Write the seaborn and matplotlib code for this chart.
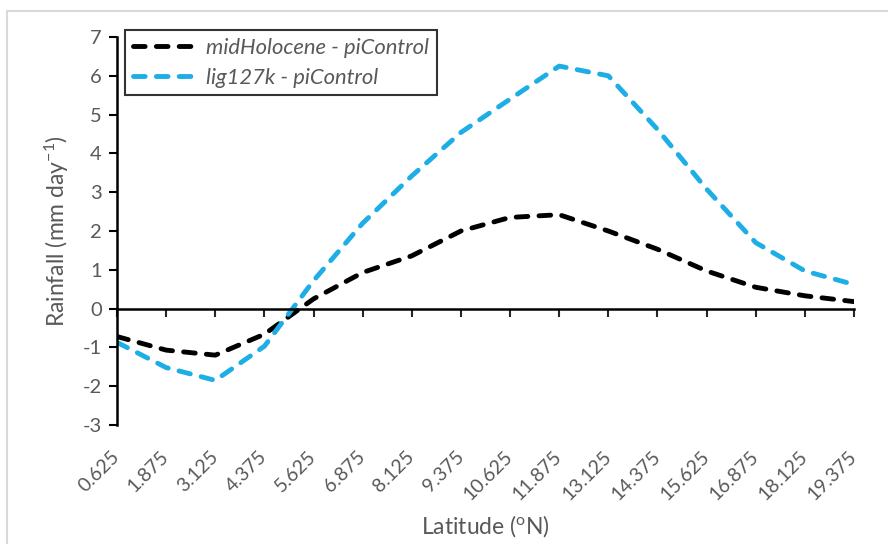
import matplotlib
matplotlib.use("Agg")
import matplotlib.pyplot as plt
import seaborn as sns
import pandas as pd
import numpy as np

# latitude categories (degrees N)
lat_labels = ['0.625', '1.875', '3.125', '4.375', '5.625', '6.875', '8.125', '9.375',
              '10.625', '11.875', '13.125', '14.375', '15.625', '16.875', '18.125', '19.375']

# rainfall anomalies (mm/day)
mid_holocene = [-0.72, -1.07, -1.2, -0.66, 0.25, 0.93, 1.36, 2.0,
                2.35, 2.42, 2.0, 1.53, 0.97, 0.55, 0.33, 0.18]
lig127k = [-0.87, -1.52, -1.85, -0.97, 0.72, 2.2, 3.42, 4.54,
           5.4, 6.25, 6.0, 4.62, 3.08, 1.7, 0.97, 0.62]

series_names = ['midHolocene - piControl', 'lig127k - piControl']

df = pd.DataFrame({
    'pos': list(range(len(lat_labels))) * 2,
    'rain': mid_holocene + lig127k,
    'series': [series_names[0]] * len(lat_labels) + [series_names[1]] * len(lat_labels),
})

sns.set_style('white')
plt.rcParams['font.family'] = ['Lato', 'DejaVu Sans']
plt.rcParams['mathtext.default'] = 'regular'
plt.rcParams['axes.unicode_minus'] = False

grey = '#595959'
blue = '#1EAEE6'
lw = 3.5
dash = (2.4, 2.3)

fig = plt.figure(figsize=(8.88, 5.44), dpi=100)
ax = fig.add_axes([117 / 888, 1 - 425 / 544, (854 - 117) / 888, (425 - 37) / 544])

sns.lineplot(
    data=df, x='pos', y='rain', hue='series', style='series',
    palette={series_names[0]: 'black', series_names[1]: blue},
    dashes={series_names[0]: dash, series_names[1]: dash},
    linewidth=lw, ax=ax, legend=False, sort=False, dash_capstyle='round',
)

ax.set_xlim(0, len(lat_labels) - 1)
ax.set_ylim(-3, 7)
ax.set_yticks(range(-3, 8))
ax.tick_params(axis='y', direction='out', length=6, width=1.5, colors='black',
               labelcolor=grey, labelsize=14.5, left=True, pad=5)

# x axis crosses at zero, labels stay at the bottom
for s in ['top', 'right']:
    ax.spines[s].set_visible(False)
ax.spines['left'].set_linewidth(1.8)
ax.spines['left'].set_color('black')
ax.spines['bottom'].set_position(('data', 0))
ax.spines['bottom'].set_linewidth(1.8)
ax.spines['bottom'].set_color('black')
ax.set_xticks(range(len(lat_labels)))
ax.tick_params(axis='x', direction='out', length=6, width=1.5, bottom=True, labelbottom=False)

sec = ax.secondary_xaxis('bottom')
sec.set_xticks(range(len(lat_labels)))
sec.set_xticklabels(lat_labels, rotation=45, ha='right', va='center',
                    rotation_mode='anchor', color=grey, fontsize=14)
sec.tick_params(length=0, pad=21)
sec.spines['bottom'].set_visible(False)

ax.set_xlabel('')
sec.set_xlabel('Latitude ($^{o}$N)', color=grey, fontsize=16.5, labelpad=7)
ax.set_ylabel('Rainfall (mm day$^{-1}$)', color=grey, fontsize=16.5, labelpad=8)

handles = [
    plt.Line2D([], [], color='black', lw=lw, dashes=dash, dash_capstyle='round'),
    plt.Line2D([], [], color=blue, lw=lw, dashes=dash, dash_capstyle='round'),
]
leg = fig.legend(handles, series_names, loc='upper left',
                 bbox_to_anchor=(125 / 888, 1 - 30 / 544), frameon=True,
                 fancybox=False, edgecolor='black', handlelength=3.0,
                 prop={'style': 'italic', 'size': 15.8}, labelcolor=grey,
                 borderpad=0.35, labelspacing=0.45, handletextpad=0.35,
                 borderaxespad=0)
leg.get_frame().set_linewidth(1.5)

# light outer frame: only its left and top edges fall inside the picture
fig.patches.append(plt.Rectangle((7 / 888, -0.1), 1.2, 1 - 11 / 544 + 0.1,
                                 transform=fig.transFigure, fill=False,
                                 edgecolor='#d9d9d9', linewidth=1.5))

fig.savefig('out.png', dpi=100)
